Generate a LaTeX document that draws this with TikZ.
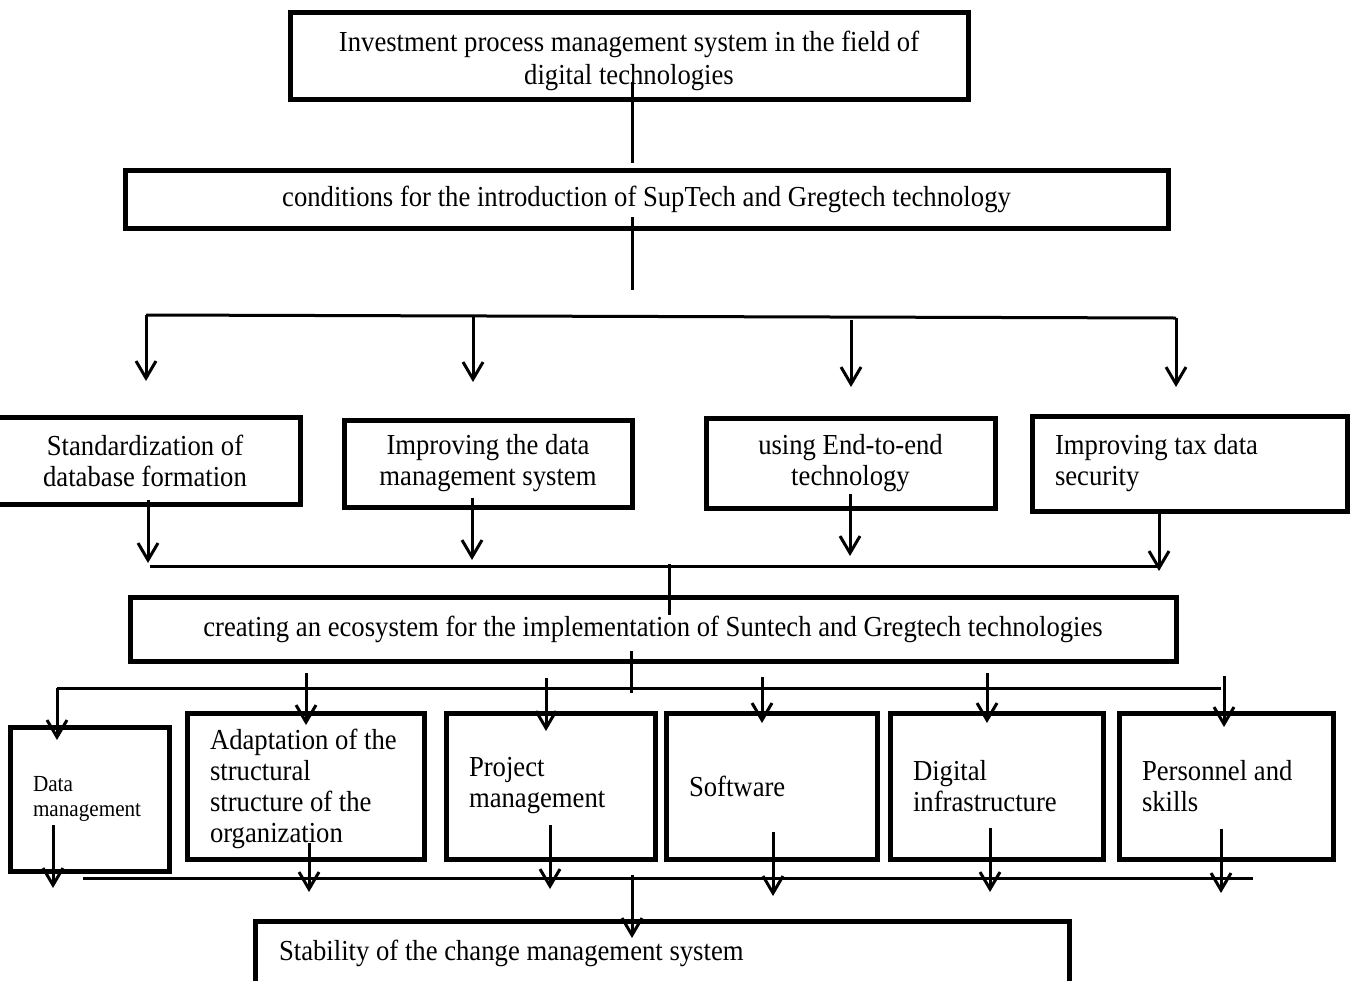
\documentclass[tikz,border=0pt]{standalone}
\usepackage{fontspec}
\setmainfont{Liberation Serif}[FakeStretch=0.92]
\usetikzlibrary{arrows.meta}

\tikzset{
  box/.style={draw, line width=2.5pt, inner sep=0pt, font=\fontsize{14.5}{15.5}\selectfont},
  cbox/.style={box, align=center},
  lbox/.style={box, align=flush left, inner xsep=11.5pt},
  link/.style={line width=1.5pt},
  arr/.style={link, -{Straight Barb[length=8.5pt,width=10pt,line width=1.5pt]}},
}

\begin{document}
\begin{tikzpicture}[x=0.5pt,y=-0.5pt]
          \useasboundingbox (0,0) rectangle (1352,980);
          \clip (0,0) rectangle (1352,980);
          % two boxes on top
          \node[cbox, minimum width=339pt, minimum height=43.5pt, font=\fontsize{14.5}{16.5}\selectfont] (top) at (629,55.5) {\rule{0pt}{16pt}Investment process management system in the field of\\ digital technologies};
          \node[cbox, minimum width=521.5pt, minimum height=29pt] (cond) at (646.5,199) {conditions for the introduction of SupTech and Gregtech technology};
          % four boxes in the middle row
          \node[cbox, minimum width=155pt, minimum height=43.5pt] (std) at (145,460.5) {Standardization of\\ database formation};
          \node[cbox, minimum width=144pt, minimum height=43.5pt] (datasys) at (488,463.5) {Improving the data\\ management system};
          \node[cbox, minimum width=144.5pt, minimum height=45pt] (endtoend) at (850.5,463) {using End-to-end\\ technology};
          \node[lbox, minimum width=156.5pt, minimum height=47.5pt, text width=134.5pt] (taxsec) at (1189.5,463.5) {Improving tax data\\ security};
          % ecosystem box
          \node[cbox, minimum width=523pt, minimum height=32pt] (eco) at (653,629) {creating an ecosystem for the implementation of Suntech and Gregtech technologies};
          % six boxes in the lower row
          \node[lbox, minimum width=79.5pt, minimum height=72pt, text width=56.5pt, font=\fontsize{11.5}{12.5}\selectfont] (datamgmt) at (89.5,799) {Data\\ management};
          \node[lbox, minimum width=118.5pt, minimum height=73pt, text width=95.5pt] (adapt) at (305.5,786) {\rule{0pt}{13pt}Adaptation of the\\ structural\\ structure of the\\ organization};
          \node[lbox, minimum width=104.5pt, minimum height=73pt, text width=81.5pt] (project) at (550.5,786) {Project\\ management};
          \node[lbox, minimum width=105.5pt, minimum height=73pt, text width=82.5pt] (software) at (771.5,786.5) {Software};
          \node[lbox, minimum width=105.5pt, minimum height=73pt, text width=83.5pt] (digital) at (996.5,786.5) {Digital\\ infrastructure};
          \node[lbox, minimum width=106pt, minimum height=73pt, text width=84pt] (personnel) at (1226,786.5) {Personnel and\\ skills};
          % last box, cut by the page
          \node[lbox, minimum width=407pt, minimum height=32pt, text width=383pt] (stab) at (662,953) {Stability of the change management system};

          % trunk lines under the two top boxes
          \coordinate (t1) at (632,82);
          \coordinate (t2) at (632,163);
          \coordinate (c1) at (632,217);
          \coordinate (c2) at (632,290);
          \draw[link] (t1) -- (t2);
          \draw[link] (c1) -- (c2);
          % upper bus and its four arrows
          \coordinate (u1) at (146,315);
          \coordinate (u2) at (1176,318);
          \coordinate (u1e) at (146,381);
          \coordinate (u2e) at (1176,387);
          \coordinate (m1) at (473,316);
          \coordinate (m1e) at (473,382);
          \coordinate (m2) at (851,320);
          \coordinate (m2e) at (851,387);
          \draw[link] (u1) -- (u2);
          \draw[arr] (u1) -- (u1e);
          \draw[arr] (m1) -- (m1e);
          \draw[arr] (m2) -- (m2e);
          \draw[arr] (u2) -- (u2e);
          % arrows out of the middle row
          \coordinate (r1) at (148,500);
          \coordinate (r1e) at (148,563);
          \coordinate (r2) at (472,498);
          \coordinate (r2e) at (472,560);
          \coordinate (r3) at (850,494);
          \coordinate (r3e) at (850,556);
          \coordinate (r4) at (1159,513);
          \coordinate (r4e) at (1159,571);
          \draw[arr] (r1) -- (r1e);
          \draw[arr] (r2) -- (r2e);
          \draw[arr] (r3) -- (r3e);
          \draw[arr] (r4) -- (r4e);
          % lower bus into the ecosystem box
          \coordinate (l1) at (150,566);
          \coordinate (l2) at (1159,566);
          \coordinate (k1) at (669,564);
          \coordinate (k2) at (669,615);
          \draw[link] (l1) -- (l2);
          \draw[link] (k1) -- (k2);
          % bus over the six boxes
          \coordinate (e1) at (631,651);
          \coordinate (e2) at (631,693);
          \coordinate (b1) at (57,688);
          \coordinate (b2) at (1221,688);
          \coordinate (b1e) at (57,740);
          \draw[link] (e1) -- (e2);
          \draw[link] (b1) -- (b2);
          \draw[arr] (b1) -- (b1e);
          \coordinate (d2) at (306,673);
          \coordinate (d2e) at (306,725);
          \coordinate (d3) at (546,678);
          \coordinate (d3e) at (546,731);
          \coordinate (d4) at (762,677);
          \coordinate (d4e) at (762,723);
          \coordinate (d5) at (987,673);
          \coordinate (d5e) at (987,723);
          \coordinate (d6) at (1224,676);
          \coordinate (d6e) at (1224,727);
          \draw[arr] (d2) -- (d2e);
          \draw[arr] (d3) -- (d3e);
          \draw[arr] (d4) -- (d4e);
          \draw[arr] (d5) -- (d5e);
          \draw[arr] (d6) -- (d6e);
          % six arrows out of the lower row
          \coordinate (o1) at (53,825);
          \coordinate (o1e) at (53,888);
          \coordinate (o2) at (309,843);
          \coordinate (o2e) at (309,892);
          \coordinate (o3) at (550,825);
          \coordinate (o3e) at (550,889);
          \coordinate (o4) at (773,832);
          \coordinate (o4e) at (773,896);
          \coordinate (o5) at (990,828);
          \coordinate (o5e) at (990,892);
          \coordinate (o6) at (1221,829);
          \coordinate (o6e) at (1221,893);
          \draw[arr] (o1) -- (o1e);
          \draw[arr] (o2) -- (o2e);
          \draw[arr] (o3) -- (o3e);
          \draw[arr] (o4) -- (o4e);
          \draw[arr] (o5) -- (o5e);
          \draw[arr] (o6) -- (o6e);
          % bottom bus and arrow into the last box
          \coordinate (f1) at (83,878);
          \coordinate (f2) at (1253,878);
          \coordinate (g1) at (632,875);
          \coordinate (g2) at (632,938);
          \draw[link] (f1) -- (f2);
          \draw[arr] (g1) -- (g2);
        \end{tikzpicture}
\end{document}
